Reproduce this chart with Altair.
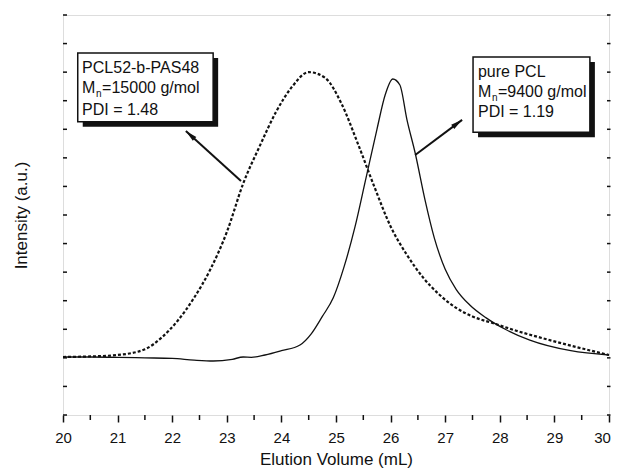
import altair as alt
import pandas as pd
import numpy as np

# ---- data ----
copolymer_x = [20.0, 20.5, 21.0, 21.5, 21.8, 22.1, 22.4, 22.7, 23.0, 23.3, 23.6, 23.9, 24.2, 24.5,
               24.8, 25.1, 25.4, 25.7, 26.0, 26.3, 26.6, 26.9, 27.2, 27.5, 27.9, 28.3, 28.8, 29.4, 30.0]
copolymer_y = [2.03, 2.05, 2.1, 2.3, 2.7, 3.3, 4.1, 5.1, 6.4, 8.1, 9.4, 10.6, 11.5, 12.0,
               11.8, 10.9, 9.5, 8.0, 6.6, 5.6, 4.8, 4.2, 3.75, 3.45, 3.2, 2.95, 2.68, 2.38, 2.1]

pcl_x = [20.0, 20.5, 21.0, 21.5, 22.0, 22.4, 22.75, 23.1, 23.3, 23.45, 23.7, 24.0, 24.34, 24.55,
         24.75, 24.95, 25.15, 25.35, 25.55, 25.75, 25.9, 26.04, 26.17, 26.3, 26.45, 26.63, 26.8,
         27.0, 27.2, 27.45, 27.75, 28.1, 28.55, 29.3, 30.0]
pcl_y = [2.03, 2.03, 2.02, 2.0, 1.98, 1.92, 1.89, 1.95, 2.03, 2.02, 2.1, 2.25, 2.45, 2.85,
         3.45, 4.1, 5.2, 6.6, 8.3, 10.0, 11.2, 11.76, 11.55, 10.33, 9.17, 7.53, 6.2,
         5.1, 4.4, 3.85, 3.4, 3.0, 2.62, 2.25, 2.1]

x_major = [20, 21, 22, 23, 24, 25, 26, 27, 28, 29, 30]
x_minor = [20.5, 21.5, 22.5, 23.5, 24.5, 25.5, 26.5, 27.5, 28.5, 29.5]
y_ticks = list(range(0, 15))

# annotation boxes (data units)
box_x = [20.27, 27.51]
box_x2 = [22.75, 29.65]
box_y = [12.67, 12.53]
box_y2 = [10.26, 9.9]

line1 = ["PCL52-b-PAS48", "pure PCL"]
line2_rest = ["=15000 g/mol", "=9400 g/mol"]
line3 = ["PDI = 1.48", "PDI = 1.19"]
text_x = [20.35, 27.6]
text_y1 = [11.97, 11.83]
text_y2 = [11.27, 11.13]
text_y3 = [10.5, 10.43]

arrow_x0 = [23.26, 26.45]
arrow_y0 = [8.19, 9.1]
arrow_x1 = [22.25, 27.31]
arrow_y1 = [9.94, 10.33]

W, H = 546, 400
XD, YD = [20, 30], [0, 14]
FONT = "Liberation Sans"
INK = "#111"

xs = alt.Scale(domain=XD, nice=False, zero=False)
ys = alt.Scale(domain=YD, nice=False, zero=False)

cop = pd.DataFrame({"x": copolymer_x, "y": copolymer_y})
pcl = pd.DataFrame({"x": pcl_x, "y": pcl_y})

xax = alt.Axis(values=x_major, format="d", labelFont=FONT, labelFontSize=15, labelColor=INK,
               labelFlush=False,
               labelOffset={"condition": {"test": "datum.value == 30", "value": -7}, "value": 0},
               tickSize=7, tickWidth=1.5, tickColor=INK, domain=False, grid=False,
               labelPadding=8, title="Elution Volume (mL)", titleFont=FONT, titleFontSize=17,
               titleFontWeight="normal", titleColor=INK, titleBaseline="bottom", titleY=53)
yax = alt.Axis(ticks=False, labels=False, domain=False, grid=False, title="Intensity (a.u.)",
               titleFont=FONT, titleFontSize=17, titleFontWeight="normal", titleColor=INK,
               titlePadding=33)

dashed = alt.Chart(cop).mark_line(color=INK, strokeWidth=2.2, strokeDash=[3, 2],
                                  interpolate="monotone").encode(
    x=alt.X("x:Q", scale=xs, axis=xax), y=alt.Y("y:Q", scale=ys, axis=yax))
solid = alt.Chart(pcl).mark_line(color=INK, strokeWidth=1.3, interpolate="monotone").encode(
    x=alt.X("x:Q", scale=xs), y=alt.Y("y:Q", scale=ys))

# minor x ticks
minor = alt.Chart(pd.DataFrame({"x": x_minor})).mark_rule(color=INK, strokeWidth=1.5).encode(
    x=alt.X("x:Q", scale=xs), y=alt.value(H), y2=alt.value(H + 5))
# y ticks inward left and small on right
yt = pd.DataFrame({"y": y_ticks})
ytl = alt.Chart(yt).mark_rule(color=INK, strokeWidth=1.5).encode(
    y=alt.Y("y:Q", scale=ys), x=alt.value(0), x2=alt.value(4))
ytr = alt.Chart(yt).mark_rule(color=INK, strokeWidth=1.5).encode(
    y=alt.Y("y:Q", scale=ys), x=alt.value(W - 2), x2=alt.value(W + 1.5))

boxes = pd.DataFrame({"x": box_x, "x2": box_x2, "y": box_y, "y2": box_y2})
shadow = alt.Chart(boxes).mark_rect(color=INK, xOffset=5, x2Offset=5, yOffset=5, y2Offset=5).encode(
    x=alt.X("x:Q", scale=xs), x2="x2", y=alt.Y("y:Q", scale=ys), y2="y2")
box = alt.Chart(boxes).mark_rect(fill="white", stroke=INK, strokeWidth=1.5).encode(
    x=alt.X("x:Q", scale=xs), x2="x2", y=alt.Y("y:Q", scale=ys), y2="y2")

txt = pd.DataFrame({"x": text_x, "y1": text_y1, "y2": text_y2, "y3": text_y3,
                    "l1": line1, "l2": line2_rest, "l3": line3})
tk = dict(align="left", baseline="alphabetic", font=FONT, fontSize=16, color=INK)
t1 = alt.Chart(txt).mark_text(**tk).encode(x=alt.X("x:Q", scale=xs), y=alt.Y("y1:Q", scale=ys), text="l1")
t2m = alt.Chart(txt).mark_text(**tk).encode(x=alt.X("x:Q", scale=xs), y=alt.Y("y2:Q", scale=ys),
                                            text=alt.value("M"))
t2n = alt.Chart(txt).mark_text(align="left", baseline="alphabetic", font=FONT, fontSize=10,
                               color=INK, dx=14, dy=4).encode(
    x=alt.X("x:Q", scale=xs), y=alt.Y("y2:Q", scale=ys), text=alt.value("n"))
t2r = alt.Chart(txt).mark_text(dx=20, **tk).encode(x=alt.X("x:Q", scale=xs), y=alt.Y("y2:Q", scale=ys),
                                                   text="l2")
t3 = alt.Chart(txt).mark_text(**tk).encode(x=alt.X("x:Q", scale=xs), y=alt.Y("y3:Q", scale=ys), text="l3")

# arrows
ax0 = np.array(arrow_x0); ay0 = np.array(arrow_y0); ax1 = np.array(arrow_x1); ay1 = np.array(arrow_y1)
dxp = (ax1 - ax0) * W / (XD[1] - XD[0])
dyp = -(ay1 - ay0) * H / (YD[1] - YD[0])
ang = (np.degrees(np.arctan2(dxp, -dyp)) + 360) % 360
arr = pd.DataFrame({"x0": arrow_x0, "y0": arrow_y0, "x1": arrow_x1, "y1": arrow_y1, "ang": ang})
shaft = alt.Chart(arr).mark_rule(color=INK, strokeWidth=2).encode(
    x=alt.X("x0:Q", scale=xs), y=alt.Y("y0:Q", scale=ys), x2="x1", y2="y1")
head = alt.Chart(arr).mark_point(shape="M0,0L0.4,1.8L-0.4,1.8Z", filled=True, color=INK,
                                 opacity=1, size=170).encode(
    x=alt.X("x1:Q", scale=xs), y=alt.Y("y1:Q", scale=ys), angle=alt.Angle("ang:Q", scale=None))

chart = alt.layer(dashed, solid, minor, ytl, ytr, shaft, head, shadow, box, t1, t2m, t2n, t2r, t3).properties(
    width=W, height=H, autosize="none",
    padding={"left": 55, "top": 7, "right": 2, "bottom": 53},
).configure_view(stroke=INK, strokeWidth=2).configure(background="white")

chart.save("out.html", embed_options={"renderer": "svg", "actions": False})
